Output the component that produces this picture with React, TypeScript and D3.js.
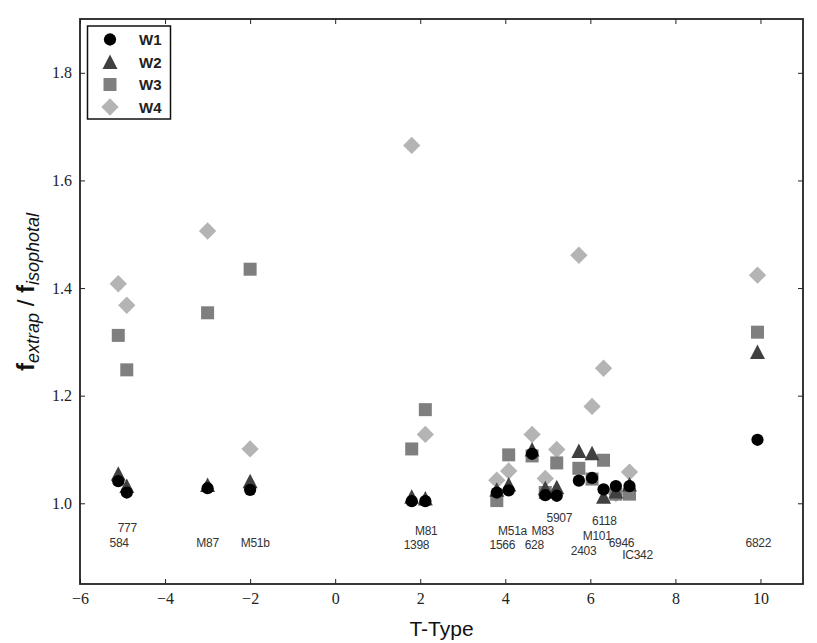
import React, { useRef, useEffect } from "react";
import * as d3 from "d3";

// galaxies, in the order they sit along the T-type axis
const galaxies = ["584", "777", "M87", "M51b", "1398", "M81", "1566", "M51a", "628", "M83", "5907", "2403", "M101", "6118", "6946", "IC342", "6822"];
// plotted T-type (slightly jittered in the original)
const tType = [-5.1, -4.9, -3.0, -2.0, 1.8, 2.12, 3.8, 4.08, 4.63, 4.94, 5.21, 5.73, 6.04, 6.31, 6.6, 6.92, 9.93];

// f_extrap / f_isophotal per band
const w1 = [1.041, 1.02, 1.028, 1.025, 1.004, 1.004, 1.02, 1.024, 1.092, 1.015, 1.014, 1.042, 1.047, 1.026, 1.032, 1.032, 1.118];
const w2 = [1.055, 1.032, 1.034, 1.041, 1.012, 1.009, 1.025, 1.035, 1.1, 1.028, 1.03, 1.097, 1.093, 1.012, 1.022, 1.035, 1.281];
const w3 = [1.312, 1.248, 1.354, 1.435, 1.101, 1.174, 1.005, 1.09, 1.088, 1.02, 1.075, 1.065, 1.045, 1.08, 1.017, 1.017, 1.318];
const w4 = [1.408, 1.368, 1.506, 1.101, 1.665, 1.128, 1.043, 1.06, 1.128, 1.046, 1.1, 1.461, 1.18, 1.251, 1.018, 1.058, 1.424];

// name annotations, in data units
const labelX = [-5.08, -4.89, -3.0, -1.88, 1.91, 2.14, 3.93, 4.17, 4.68, 4.88, 5.27, 5.84, 6.16, 6.33, 6.73, 7.11, 9.95];
const labelY = [0.926, 0.954, 0.926, 0.926, 0.923, 0.948, 0.923, 0.949, 0.923, 0.948, 0.973, 0.912, 0.939, 0.967, 0.926, 0.903, 0.926];

const bands = ["W1", "W2", "W3", "W4"];
const bandValues = [w1, w2, w3, w4];
const bandColors = ["#000000", "#404040", "#7f7f7f", "#b4b4b4"];

const xTicks = [-6, -4, -2, 0, 2, 4, 6, 8, 10];
const yTicks = [1.0, 1.2, 1.4, 1.6, 1.8];

const triangle = "M0,-7.5L7.5,7L-7.5,7Z";
function markerPath(band: number) {
  if (band === 0) return d3.symbol(d3.symbolCircle, 118)()!;
  if (band === 1) return triangle;
  if (band === 2) return d3.symbol(d3.symbolSquare, 169)()!;
  return d3.symbol(d3.symbolSquare, 150)()!;
}
const markerRotate = (band: number) => (band === 3 ? 45 : 0);

export default function App() {
  const ref = useRef<SVGSVGElement>(null);

  useEffect(() => {
    const svg = d3.select(ref.current);
    svg.selectAll("*").remove();

    const left = 80, right = 803, top = 19, bottom = 584;
    const x = d3.scaleLinear().domain([-6, 11]).range([left, right]);
    const y = d3.scaleLinear().domain([0.85, 1.9]).range([bottom, top]);

    const serif = "'Liberation Serif', 'DejaVu Serif', serif";
    const sans = "'Liberation Sans', Arial, sans-serif";

    // axes with inward ticks on all four sides
    const gx = svg.append("g").attr("transform", `translate(0,${bottom})`)
      .call(d3.axisBottom(x).tickValues(xTicks).tickSizeInner(-5).tickSizeOuter(0).tickPadding(9));
    const gxt = svg.append("g").attr("transform", `translate(0,${top})`)
      .call(d3.axisTop(x).tickValues(xTicks).tickSizeInner(-5).tickSizeOuter(0).tickFormat(() => ""));
    const gy = svg.append("g").attr("transform", `translate(${left},0)`)
      .call(d3.axisLeft(y).tickValues(yTicks).tickSizeInner(-5).tickSizeOuter(0).tickPadding(8).tickFormat(d3.format(".1f")));
    const gyr = svg.append("g").attr("transform", `translate(${right},0)`)
      .call(d3.axisRight(y).tickValues(yTicks).tickSizeInner(-5).tickSizeOuter(0).tickFormat(() => ""));
    [gx, gxt, gy, gyr].forEach(g => {
      g.select(".domain").remove();
      g.selectAll(".tick line").attr("stroke", "#222").attr("stroke-width", 1);
      g.selectAll(".tick text").attr("font-family", serif).attr("font-size", 16).attr("fill", "#222");
    });

    // markers, lightest band underneath
    for (let b = 3; b >= 0; b--) {
      svg.append("g").selectAll("path")
        .data(tType.map((t, i) => ({ t, v: bandValues[b][i] })))
        .join("path")
        .attr("d", markerPath(b))
        .attr("fill", bandColors[b])
        .attr("transform", d => `translate(${x(d.t)},${y(d.v)}) rotate(${markerRotate(b)})`);
    }

    // galaxy names
    svg.append("g").selectAll("text")
      .data(galaxies)
      .join("text")
      .attr("x", (d, i) => x(labelX[i]))
      .attr("y", (d, i) => y(labelY[i]))
      .attr("text-anchor", "middle")
      .attr("dominant-baseline", "central")
      .attr("font-family", sans)
      .attr("font-size", 12)
      .attr("letter-spacing", -0.3)
      .attr("fill", "#333")
      .text(d => d);

    // frame
    svg.append("rect")
      .attr("x", left).attr("y", top)
      .attr("width", right - left).attr("height", bottom - top)
      .attr("fill", "none").attr("stroke", "#222").attr("stroke-width", 1.8);

    // legend
    const lg = svg.append("g");
    lg.append("rect").attr("x", 87.5).attr("y", 26).attr("width", 83).attr("height", 93)
      .attr("fill", "#fff").attr("stroke", "#111").attr("stroke-width", 1.5);
    bands.forEach((name, b) => {
      const ry = 39.5 + b * 22.5;
      lg.append("path").attr("d", markerPath(b)).attr("fill", bandColors[b])
        .attr("transform", `translate(110,${ry}) rotate(${markerRotate(b)})`);
      lg.append("text").attr("x", 139).attr("y", ry).attr("dominant-baseline", "central")
        .attr("font-family", sans).attr("font-size", 15).attr("font-weight", "bold").attr("fill", "#222")
        .text(name);
    });

    // axis titles
    svg.append("text").attr("x", (left + right) / 2).attr("y", 628)
      .attr("text-anchor", "middle").attr("dominant-baseline", "central")
      .attr("font-family", sans).attr("font-size", 21).attr("fill", "#111")
      .text("T-Type");

    const yl = svg.append("text")
      .attr("transform", "translate(34,292) rotate(-90)")
      .attr("text-anchor", "middle")
      .attr("font-family", sans).attr("fill", "#111");
    yl.append("tspan").attr("font-size", 24).attr("font-weight", "bold").text("f");
    yl.append("tspan").attr("font-size", 18).attr("font-style", "italic").attr("dy", 5).text("extrap");
    yl.append("tspan").attr("font-size", 24).attr("dy", -5).text(" / ");
    yl.append("tspan").attr("font-size", 24).attr("font-weight", "bold").text("f");
    yl.append("tspan").attr("font-size", 18).attr("font-style", "italic").attr("dy", 5).text("isophotal");
  }, []);

  return (
    <svg ref={ref} width={817} height={643}
      style={{ position: "absolute", left: 0, top: 0, background: "#fff" }} />
  );
}
